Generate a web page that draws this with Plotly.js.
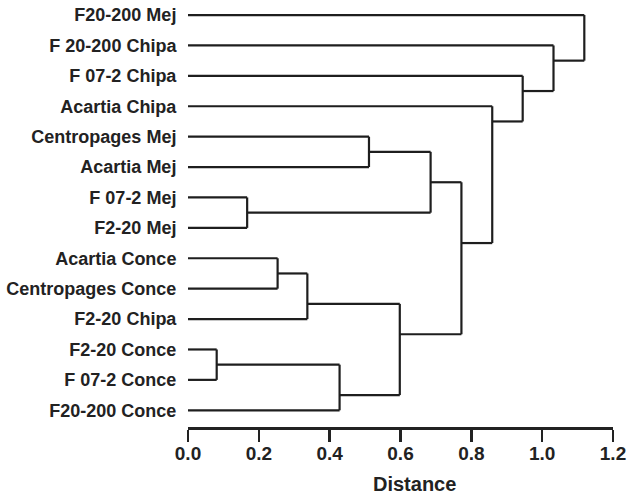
<!DOCTYPE html>
<html><head><meta charset="utf-8">
<script src="https://cdn.plot.ly/plotly-3.0.1.min.js"></script>
<style>html,body{margin:0;padding:0;background:#fff}#chart{width:631px;height:494px}</style>
</head><body><div id="chart"></div>
<script>
// Leaves, top to bottom
const leaves = ["F20-200 Mej","F 20-200 Chipa","F 07-2 Chipa","Acartia Chipa","Centropages Mej","Acartia Mej","F 07-2 Mej","F2-20 Mej","Acartia Conce","Centropages Conce","F2-20 Chipa","F2-20 Conce","F 07-2 Conce","F20-200 Conce"];
// Merges: node ids 0..13 are leaves, merge k creates node 14+k
const mergeLeft  = [6, 4, 15, 8, 17, 11, 19, 18, 16, 3, 2, 1, 0];
const mergeRight = [7, 5, 14, 9, 10, 12, 13, 20, 21, 22, 23, 24, 25];
const mergeDist  = [0.167, 0.511, 0.685, 0.253, 0.337, 0.081, 0.428, 0.598, 0.772, 0.859, 0.945, 1.032, 1.119];
const xTicks = [0.0, 0.2, 0.4, 0.6, 0.8, 1.0, 1.2];

const n = leaves.length;
const nx = [], ny = [], nmax = [];
for (let i = 0; i < n; i++) { nx.push(0); ny.push(i); nmax.push(i); }
const xs = [], ys = [];
for (let k = 0; k < mergeDist.length; k++) {
  const a = mergeLeft[k], b = mergeRight[k], h = mergeDist[k];
  xs.push(nx[a], h, null, nx[b], h, null, h, h, null);
  ys.push(ny[a], ny[a], null, ny[b], ny[b], null, ny[a], ny[b], null);
  nx.push(h); ny.push(nmax[a] + 0.5); nmax.push(Math.max(nmax[a], nmax[b]));
}

const trace = {x: xs, y: ys, mode: 'lines', type: 'scatter', hoverinfo: 'skip',
  line: {color: '#1e1e1e', width: 2.2}, connectgaps: false};

const layout = {
  width: 631, height: 494,
  margin: {l: 188, r: 18, t: 5, b: 67},
  paper_bgcolor: '#fff', plot_bgcolor: '#fff',
  showlegend: false,
  font: {family: 'Liberation Sans, Arial, sans-serif', color: '#222'},
  xaxis: {range: [0, 1.2], tickvals: xTicks, ticktext: xTicks.map(v => v.toFixed(1)),
    showgrid: false, zeroline: false, showline: true, linecolor: '#222', linewidth: 2.5,
    ticks: 'outside', ticklen: 12, tickwidth: 2.5, tickcolor: '#222', ticklabelstandoff: -4,
    tickfont: {size: 19, family: 'Liberation Sans, Arial, sans-serif', color: '#222', weight: 'bold'}},
  yaxis: {range: [13.55, -0.33], tickvals: leaves.map((_, i) => i), ticktext: leaves,
    showgrid: false, zeroline: false, showline: false,
    ticks: 'outside', ticklen: 7, tickcolor: 'rgba(0,0,0,0)',
    tickfont: {size: 18, family: 'Liberation Sans, Arial, sans-serif', color: '#222', weight: 'bold'}},
  annotations: [{text: '<b>Distance</b>', x: 0.64, xref: 'x', y: -0.134, yref: 'paper',
    xanchor: 'center', yanchor: 'middle', showarrow: false, borderpad: 0,
    font: {size: 20, family: 'Liberation Sans, Arial, sans-serif', color: '#222'}}]
};
Plotly.newPlot('chart', [trace], layout, {displayModeBar: false, staticPlot: true});
</script></body></html>
